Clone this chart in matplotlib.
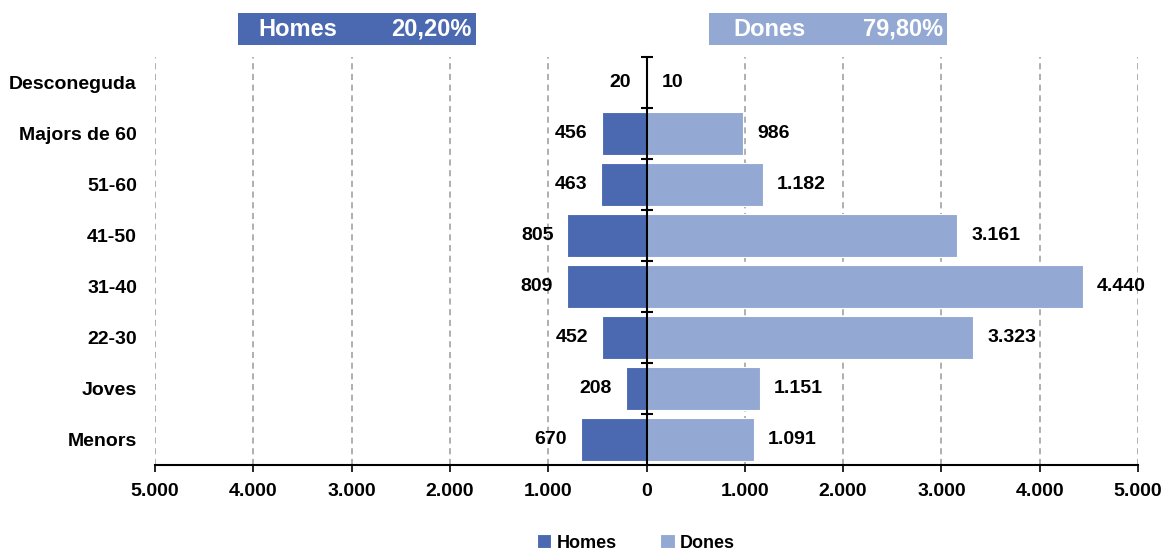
import matplotlib
matplotlib.use("Agg")
import matplotlib.pyplot as plt
from matplotlib.patches import Rectangle

categories = ["Menors", "Joves", "22-30", "31-40", "41-50", "51-60", "Majors de 60", "Desconeguda"]
homes = [670, 208, 452, 809, 805, 463, 456, 20]
dones = [1091, 1151, 3323, 4440, 3161, 1182, 986, 10]
homes_pct = "20,20%"
dones_pct = "79,80%"
xticks = [-5000, -4000, -3000, -2000, -1000, 0, 1000, 2000, 3000, 4000, 5000]

c_h = "#4A69B0"
c_d = "#93A9D3"

plt.rcParams['font.family'] = ['Liberation Sans', 'DejaVu Sans']
plt.rcParams['font.weight'] = 'bold'

W, H = 1168, 551
fig = plt.figure(figsize=(W / 100, H / 100), dpi=100)
ax = fig.add_axes([155 / W, (H - 465) / H, (1138 - 155) / W, (465 - 57) / H])


def fmt(v):
    return f"{abs(int(v)):,}".replace(",", ".")


y = list(range(len(categories)))
ax.barh(y, [-v for v in homes], height=0.84, color=c_h, edgecolor="white", linewidth=0.8, label="Homes", zorder=2)
ax.barh(y, dones, height=0.84, color=c_d, edgecolor="white", linewidth=0.8, label="Dones", zorder=2)

for yi, v in zip(y, homes):
    ax.annotate(fmt(v), (-v, yi), xytext=(-10, 0), textcoords="offset points",
                ha="right", va="center", fontsize=14, fontweight="bold")
for yi, v in zip(y, dones):
    ax.annotate(fmt(v), (v, yi), xytext=(10, 0), textcoords="offset points",
                ha="left", va="center", fontsize=14, fontweight="bold")

ax.set_xlim(-5000, 5000)
ax.set_ylim(-0.5, len(categories) - 0.5)
ax.set_xticks(xticks)
ax.set_xticklabels([fmt(v) for v in xticks], fontsize=14, fontweight="bold")
ax.set_yticks(y)
ax.set_yticklabels(categories, fontsize=14, fontweight="bold")
ax.tick_params(axis="y", length=0, pad=13)
ax.tick_params(axis="x", direction="out", length=5, width=1.2, pad=8)

for s in ["top", "right", "left"]:
    ax.spines[s].set_visible(False)
ax.spines["bottom"].set_linewidth(1.5)

for xv in xticks:
    if xv != 0:
        ax.axvline(xv, color="#9A9A9A", linestyle=(0, (4, 3)), linewidth=1.1, zorder=1)
ax.axvline(0, color="black", linewidth=1.5, zorder=3)
bounds = [k + 0.5 for k in range(len(categories))]
ax.plot([0] * len(bounds), bounds, linestyle="none", marker="_", markersize=9,
        markeredgewidth=1.5, color="black", zorder=4, clip_on=False)

# header boxes
def header(x0, x1, color, name, pct, name_x):
    y0, y1 = 13, 45
    fig.patches.append(Rectangle((x0 / W, 1 - y1 / H), (x1 - x0) / W, (y1 - y0) / H,
                                 transform=fig.transFigure, facecolor=color, edgecolor="none"))
    fig.text(name_x / W, 1 - 29 / H, name, color="white", fontsize=17, fontweight="bold",
             ha="left", va="center")
    fig.text((x1 - 4) / W, 1 - 29 / H, pct, color="white", fontsize=17, fontweight="bold",
             ha="right", va="center")

header(238, 476, c_h, "Homes", homes_pct, 258)
header(709, 947, c_d, "Dones", dones_pct, 733)

fig.legend(loc="center", bbox_to_anchor=(636 / W, 1 - 543 / H), ncol=2, frameon=False,
           handlelength=0.8, handleheight=0.8, handletextpad=0.3,
           columnspacing=2.4, prop={"weight": "bold", "size": 13})

fig.savefig("out.png", dpi=100)
